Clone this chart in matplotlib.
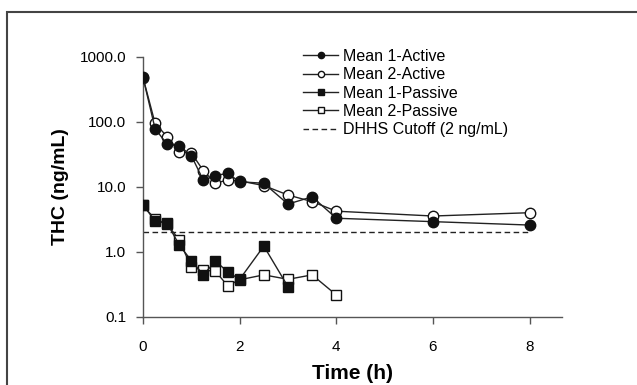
import numpy as np
import matplotlib.pyplot as plt
from matplotlib.patches import Rectangle

plt.rcParams['font.family'] = ['Liberation Sans', 'DejaVu Sans']

# time points (h)
t_active = [0, 0.25, 0.5, 0.75, 1.0, 1.25, 1.5, 1.75, 2.0, 2.5, 3.0, 3.5, 4.0, 6.0, 8.0]
mean1_active = [482, 78, 45, 42.7, 30, 12.5, 14.8, 16.1, 11.9, 11.3, 5.4, 7.0, 3.27, 2.9, 2.57]
mean2_active = [478, 94.5, 58.7, 34.5, 33, 17.6, 11.3, 12.7, 12.3, 10.4, 7.45, 5.9, 4.2, 3.54, 3.98]

t_passive1 = [0, 0.25, 0.5, 0.75, 1.0, 1.25, 1.5, 1.75, 2.0, 2.5, 3.0]
mean1_passive = [5.2, 3.0, 2.73, 1.27, 0.73, 0.44, 0.72, 0.49, 0.376, 1.22, 0.29]
t_passive2 = [0, 0.25, 0.5, 0.75, 1.0, 1.25, 1.5, 1.75, 2.0, 2.5, 3.0, 3.5, 4.0]
mean2_passive = [5.15, 3.15, 2.65, 1.51, 0.575, 0.52, 0.5, 0.30, 0.37, 0.44, 0.376, 0.44, 0.216]

cutoff = 2
cutoff_t = [0, 8]

fig = plt.figure(figsize=(6.37, 3.85), dpi=100)
# outer frame (only top/left visible in the original crop)
fig.patches.append(Rectangle((7 / 637, -0.1), 1.2, (385 - 12) / 385 + 0.1,
                             transform=fig.transFigure, fill=False,
                             edgecolor='#444444', linewidth=1.5))

ax = fig.add_axes([143 / 637, (385 - 316.7) / 385, 419 / 637, 260 / 385])

lc = '#222222'
ax.plot(t_active, mean1_active, '-o', color=lc, lw=1, mfc='#111111', mec='#111111',
        ms=7.5, label='Mean 1-Active', zorder=4)
ax.plot(t_active, mean2_active, '-o', color=lc, lw=1, mfc='white', mec='#111111',
        ms=7.5, label='Mean 2-Active', zorder=3)
ax.plot(t_passive1, mean1_passive, '-s', color=lc, lw=1, mfc='#111111', mec='#111111',
        ms=7, label='Mean 1-Passive', zorder=4)
ax.plot(t_passive2, mean2_passive, '-s', color=lc, lw=1, mfc='white', mec='#111111',
        ms=7, label='Mean 2-Passive', zorder=3)
ax.plot(cutoff_t, [cutoff, cutoff], '--', color=lc, lw=1, dashes=(4, 2.5),
        label='DHHS Cutoff (2 ng/mL)', zorder=2)

ax.set_yscale('log')
ax.set_ylim(0.1, 1000)
ax.set_xlim(0, 8.67)
ax.set_xticks([0, 2, 4, 6, 8])
ax.set_yticks([0.1, 1, 10, 100, 1000])
ax.set_yticklabels(['0.1', '1.0', '10.0', '100.0', '1000.0'])
ax.minorticks_off()
ax.tick_params(direction='out', length=5, width=1, color='#555555', labelsize=11)
ax.tick_params(axis='x', pad=12)
ax.tick_params(axis='y', pad=7)

for s in ['top', 'right']:
    ax.spines[s].set_visible(False)
for s in ['left', 'bottom']:
    ax.spines[s].set_color('#555555')
    ax.spines[s].set_linewidth(1)
ax.patch.set_alpha(0)

ax.set_xlabel('Time (h)', fontsize=15, fontweight='bold', labelpad=7)
ax.set_ylabel('THC (ng/mL)', fontsize=14, fontweight='bold', labelpad=8)

fig.legend(loc='upper left', bbox_to_anchor=(0.4757, 0.873), frameon=False,
           fontsize=11.5, handlelength=2.2, handletextpad=0.3, labelspacing=0.21,
           markerscale=0.6, borderpad=0, borderaxespad=0)

fig.savefig('out.png', dpi=100)
